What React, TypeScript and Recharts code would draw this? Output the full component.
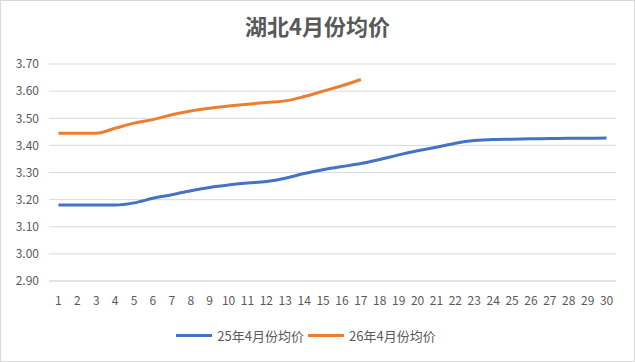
import { CartesianGrid, Legend, Line, LineChart, XAxis, YAxis } from "recharts";

const days = Array.from({ length: 30 }, (_, i) => String(i + 1));
const avg25 = [
  3.18, 3.18, 3.18, 3.18, 3.188, 3.205, 3.218, 3.233, 3.245, 3.254,
  3.261, 3.267, 3.279, 3.296, 3.31, 3.322, 3.333, 3.348, 3.365, 3.38,
  3.393, 3.408, 3.418, 3.422, 3.423, 3.424, 3.425, 3.426, 3.426, 3.427,
];
const avg26 = [
  3.445, 3.445, 3.445, 3.463, 3.482, 3.495, 3.513, 3.527, 3.537, 3.545,
  3.552, 3.558, 3.564, 3.58, 3.6, 3.62, 3.643,
];
const yTicks = [2.9, 3.0, 3.1, 3.2, 3.3, 3.4, 3.5, 3.6, 3.7];
const seriesNames = ["25年4月份均价", "26年4月份均价"];
const colors = ["#4472C4", "#ED7D31"];

const data = days.map((d, i) => ({ day: d, a: avg25[i], b: avg26[i] }));

const font = "'Noto Sans CJK SC', 'Noto Sans', sans-serif";

function LegendBox() {
  return (
    <div style={{ display: "flex", justifyContent: "center", alignItems: "center", fontFamily: font, fontSize: 13, color: "#595959" }}>
      {seriesNames.map((name, i) => (
        <div key={name} style={{ display: "flex", alignItems: "center", marginRight: 4 }}>
          <span style={{ display: "inline-block", width: 36, height: 3, background: colors[i], marginRight: 5 }} />
          <span>{name}</span>
        </div>
      ))}
    </div>
  );
}

export default function App() {
  return (
    <div style={{ position: "absolute", left: 0, top: 0, width: 633, height: 360, border: "1px solid #d9d9d9", background: "#fff" }}>
      <div
        style={{
          position: "absolute",
          top: 8,
          left: 0,
          width: "100%",
          textAlign: "center",
          fontFamily: font,
          fontSize: 22,
          fontWeight: "bold",
          color: "#595959",
        }}
      >
        湖北4月份均价
      </div>
      <div style={{ position: "absolute", left: -1, top: -1 }}>
        <LineChart width={635} height={362} data={data} margin={{ top: 64, right: 19, left: 0, bottom: 17 }}>
          <CartesianGrid vertical={false} stroke="#d9d9d9" />
          <XAxis
            dataKey="day"
            scale="band"
            interval={0}
            tickLine={false}
            axisLine={{ stroke: "#d9d9d9" }}
            tickMargin={9}
            height={45}
            tick={{ fill: "#595959", fontSize: 12, fontFamily: font }}
          />
          <YAxis
            domain={[2.9, 3.7]}
            ticks={yTicks}
            width={49}
            axisLine={false}
            tickLine={false}
            tickMargin={4}
            tickFormatter={(v: number) => v.toFixed(2)}
            tick={{ fill: "#595959", fontSize: 12, fontFamily: font }}
          />
          <Legend verticalAlign="bottom" content={() => <LegendBox />} />
          <Line type="monotone" dataKey="a" name={seriesNames[0]} stroke={colors[0]} strokeWidth={3} dot={false} isAnimationActive={false} />
          <Line type="monotone" dataKey="b" name={seriesNames[1]} stroke={colors[1]} strokeWidth={3} dot={false} isAnimationActive={false} />
        </LineChart>
      </div>
    </div>
  );
}
